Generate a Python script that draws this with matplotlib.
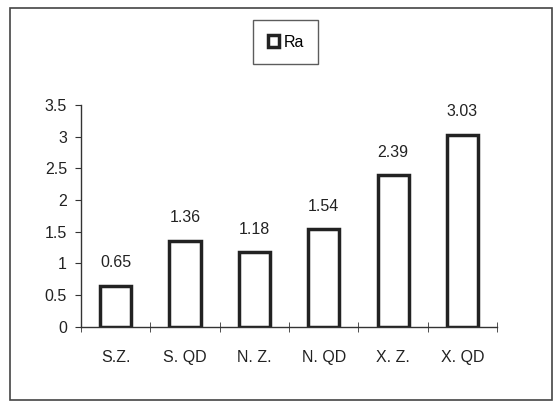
import matplotlib.pyplot as plt
import numpy as np
from matplotlib.patches import Rectangle

categories = ["S.Z.", "S. QD", "N. Z.", "N. QD", "X. Z.", "X. QD"]
ra_values = [0.65, 1.36, 1.18, 1.54, 2.39, 3.03]
value_labels = ["0.65", "1.36", "1.18", "1.54", "2.39", "3.03"]
y_ticks = [0, 0.5, 1, 1.5, 2, 2.5, 3, 3.5]
y_tick_labels = ["0", "0.5", "1", "1.5", "2", "2.5", "3", "3.5"]

plt.rcParams['font.family'] = ['Liberation Sans', 'DejaVu Sans']
fs = 11.5
ink = '#222222'

fig = plt.figure(figsize=(5.58, 4.05), dpi=100)
fig.patch.set_facecolor('white')

# outer chart border
fig.patches.append(Rectangle((0.018, 0.012), 0.972, 0.968, transform=fig.transFigure,
                             fill=False, edgecolor='#444444', linewidth=1.2))

ax = fig.add_axes([0.145, 0.193, 0.746, 0.548])
x = np.arange(len(categories))
bars = ax.bar(x, ra_values, width=0.45, color='white', edgecolor=ink,
              linewidth=2.5, label='Ra')

for xi, v, lab in zip(x, ra_values, value_labels):
    ax.annotate(lab, (xi, v), xytext=(0, 11), textcoords='offset points',
                ha='center', va='bottom', fontsize=fs, color=ink)

ax.set_xlim(-0.5, len(categories) - 0.5)
ax.set_ylim(0, 3.5)
ax.set_yticks(y_ticks)
ax.set_yticklabels(y_tick_labels, fontsize=fs, color=ink)
ax.set_xticks(x)
ax.set_xticklabels(categories, fontsize=fs, color=ink)
ax.tick_params(axis='x', length=0, pad=17)
ax.set_xticks(np.arange(len(categories) + 1) - 0.5, minor=True)
ax.tick_params(axis='x', which='minor', length=7, direction='inout', color='#333333')
ax.tick_params(axis='y', length=4, direction='out', color='#333333', pad=6)

for s in ['top', 'right']:
    ax.spines[s].set_visible(False)
for s in ['left', 'bottom']:
    ax.spines[s].set_color('#333333')
    ax.spines[s].set_linewidth(1.0)

leg = fig.legend(handles=[bars], labels=['Ra'], loc='center',
                 bbox_to_anchor=(0.512, 0.896), bbox_transform=fig.transFigure,
                 fontsize=fs, frameon=True, fancybox=False, edgecolor='#333333',
                 handlelength=0.7, handleheight=0.7, handletextpad=0.3,
                 borderpad=0.9)

fig.savefig("out.png", dpi=100, facecolor='white')
